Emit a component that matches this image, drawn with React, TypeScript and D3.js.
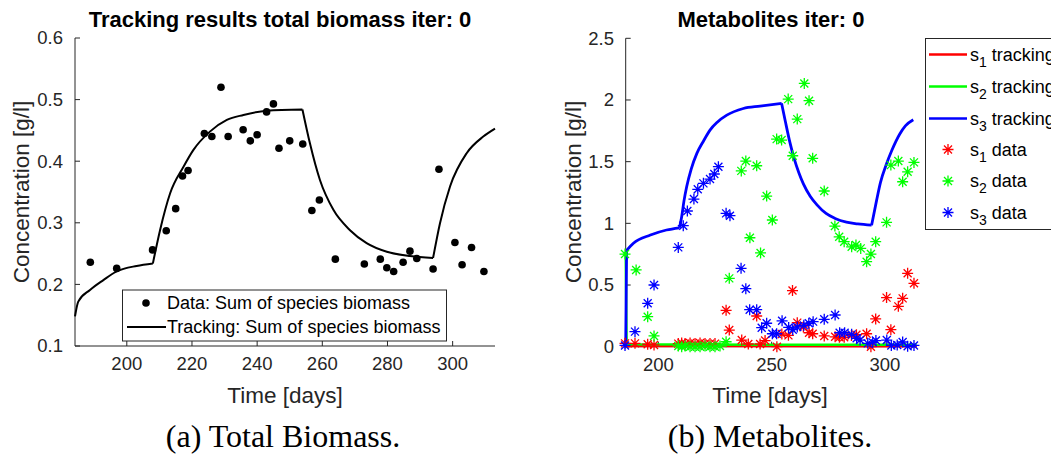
import React from "react";
import * as d3 from "d3";

// ---------- Left panel: total biomass ----------
const bioDataT = [188.8, 196.9, 207.9, 212.1, 215.0, 217.1, 218.8, 223.8, 226.1, 228.9, 231.1, 235.7, 237.9, 240.0, 242.9, 245.0, 246.7, 250.0, 254.0, 256.8, 259.1, 264.0, 272.9, 277.8, 279.8, 281.9, 284.8, 286.9, 289.0, 294.0, 295.8, 300.7, 302.9, 305.8, 309.6];
const bioDataV = [0.236, 0.226, 0.256, 0.287, 0.323, 0.376, 0.385, 0.445, 0.440, 0.520, 0.440, 0.451, 0.433, 0.443, 0.480, 0.493, 0.421, 0.433, 0.428, 0.320, 0.337, 0.241, 0.233, 0.241, 0.227, 0.221, 0.236, 0.254, 0.242, 0.225, 0.387, 0.268, 0.232, 0.260, 0.221];
// tracking curve, split at the feed switch points (sharp corners)
const bioTrackT = [184.1, 185.1, 188.7, 192.8, 196.9, 203.0, 208.0, 210.2, 213.3, 217.4, 220.4, 225.5, 230.7, 235.8, 242.9, 253.9, 256.2, 259.3, 263.4, 268.5, 273.6, 279.8, 286.9, 294.0, 296.1, 299.2, 304.3, 309.4, 313.0];
const bioTrackV = [0.148, 0.172, 0.191, 0.207, 0.221, 0.230, 0.234, 0.288, 0.348, 0.391, 0.418, 0.448, 0.467, 0.475, 0.482, 0.484, 0.429, 0.369, 0.321, 0.288, 0.267, 0.253, 0.246, 0.243, 0.299, 0.359, 0.413, 0.440, 0.453];
const bioCorners = [208.0, 253.9, 294.0];
const bioYTicks = [0.1, 0.2, 0.3, 0.4, 0.5, 0.6];
const bioXTicks = [200, 220, 240, 260, 280, 300];

// ---------- Right panel: metabolites ----------
const s1T = [185.3, 189.7, 195.3, 198.1, 208.8, 210.3, 211.8, 214.0, 216.2, 218.4, 220.6, 222.8, 225.0, 229.9, 231.3, 236.8, 239.7, 243.4, 244.9, 247.1, 252.3, 254.5, 257.4, 259.2, 261.3, 264.0, 266.5, 268.1, 273.2, 278.0, 279.9, 282.0, 285.2, 287.4, 291.9, 293.8, 295.9, 300.7, 302.6, 305.9, 307.8, 310.0, 312.8];
const s1V = [0.027, 0.027, 0.02, 0.014, 0.025, 0.03, 0.025, 0.03, 0.025, 0.03, 0.025, 0.025, 0.025, 0.295, 0.135, 0.054, 0.022, 0.249, 0.022, 0.05, 0.0, 0.103, 0.092, 0.455, 0.195, 0.16, 0.113, 0.105, 0.087, 0.08, 0.076, 0.076, 0.09, 0.097, 0.105, 0.0, 0.225, 0.398, 0.138, 0.327, 0.392, 0.595, 0.514];
const s2T = [185.3, 190.2, 195.3, 198.1, 208.8, 210.3, 211.8, 214.0, 216.2, 218.4, 220.6, 222.8, 225.0, 227.2, 229.9, 231.3, 236.6, 238.6, 240.4, 243.4, 245.1, 247.8, 250.3, 252.2, 254.4, 257.3, 259.3, 261.3, 264.4, 266.5, 268.1, 273.2, 277.9, 279.8, 282.0, 285.3, 287.2, 289.3, 291.9, 293.8, 295.9, 300.7, 302.6, 305.9, 307.8, 310.0, 312.8];
const s2V = [0.751, 0.622, 0.243, 0.087, 0.005, 0.0, 0.005, 0.0, 0.0, 0.0, 0.005, 0.0, 0.0, 0.005, 0.04, 0.554, 1.425, 1.505, 0.883, 1.467, 0.76, 1.221, 1.027, 1.683, 1.675, 2.007, 1.548, 1.845, 2.134, 1.994, 1.527, 1.262, 0.978, 0.891, 0.851, 0.81, 0.824, 0.797, 0.689, 0.751, 0.851, 1.008, 1.472, 1.505, 1.337, 1.418, 1.494];
const s3T = [185.3, 189.7, 195.3, 198.1, 208.8, 211.0, 212.8, 215.7, 217.4, 219.9, 222.8, 224.7, 226.5, 229.9, 231.6, 236.5, 238.6, 240.3, 243.4, 245.6, 247.8, 250.3, 252.2, 254.6, 257.5, 259.3, 261.3, 264.2, 266.4, 268.3, 273.2, 278.0, 280.0, 282.2, 285.3, 287.5, 289.0, 292.4, 294.6, 296.0, 300.8, 302.8, 305.4, 307.8, 310.0, 312.8];
const s3V = [0.01, 0.122, 0.352, 0.50, 0.805, 0.981, 1.10, 1.197, 1.276, 1.324, 1.359, 1.40, 1.459, 1.081, 1.062, 0.635, 0.47, 0.30, 0.30, 0.154, 0.19, 0.105, 0.105, 0.21, 0.156, 0.138, 0.16, 0.173, 0.19, 0.203, 0.222, 0.257, 0.113, 0.113, 0.10, 0.068, 0.054, 0.027, 0.035, 0.05, 0.054, 0.01, 0.014, 0.038, 0.003, 0.01];

const s1TrackT = [185.6, 186.0, 314.0];
const s1TrackV = [0.027, 0.006, 0.004];
const s2TrackT = [185.6, 186.0, 250.0, 314.0];
const s2TrackV = [0.75, 0.02, 0.016, 0.016];
const s3TrackT = [185.6, 186.0, 189.0, 196.5, 203.6, 209.3, 210.3, 211.3, 212.5, 214.5, 217.0, 220.0, 222.8, 226.0, 230.2, 237.5, 244.9, 254.4, 256.0, 258.0, 260.0, 262.0, 264.0, 267.0, 270.0, 274.0, 278.0, 283.0, 288.0, 294.1, 296.3, 298.0, 300.7, 303.0, 306.6, 309.0, 312.5];
const s3TrackV = [0.02, 0.78, 0.838, 0.905, 0.946, 0.964, 1.053, 1.18, 1.296, 1.44, 1.567, 1.67, 1.756, 1.82, 1.877, 1.931, 1.95, 1.972, 1.83, 1.66, 1.52, 1.41, 1.32, 1.22, 1.15, 1.08, 1.04, 1.01, 0.995, 0.985, 1.186, 1.33, 1.483, 1.59, 1.726, 1.79, 1.84];
const s3Corners = [186.0, 209.3, 254.4, 294.1];
const metYTicks = [0, 0.5, 1, 1.5, 2, 2.5];
const metXTicks = [200, 250, 300];

const FONT = "'Liberation Sans', Arial, Helvetica, sans-serif";
const SERIF = "'Liberation Serif', 'DejaVu Serif', serif";
const AX = "#262626";

function zip(t: number[], v: number[]) {
  return t.map((x, i) => [x, v[i]] as [number, number]);
}

// split a polyline into pieces at given corner times (corner shared by both pieces)
function splitAt(pts: [number, number][], corners: number[]) {
  const pieces: [number, number][][] = [];
  let cur: [number, number][] = [];
  for (const p of pts) {
    cur.push(p);
    if (corners.includes(p[0])) {
      pieces.push(cur);
      cur = [p];
    }
  }
  if (cur.length > 1) pieces.push(cur);
  return pieces;
}

function Star({ x, y, color }: { x: number; y: number; color: string }) {
  const s = 5.5;
  const d = 4;
  return (
    <path
      d={`M${x - s},${y}H${x + s}M${x},${y - s}V${y + s}M${x - d},${y - d}L${x + d},${y + d}M${x - d},${y + d}L${x + d},${y - d}`}
      stroke={color}
      strokeWidth={1.3}
      fill="none"
    />
  );
}

export default function App() {
  const lx = d3.scaleLinear().domain([184.1, 313]).range([75, 495]);
  const ly = d3.scaleLinear().domain([0.1, 0.6]).range([346, 38]);
  const rx = d3.scaleLinear().domain([185.6, 314]).range([625.7, 916.7]);
  const ry = d3.scaleLinear().domain([0, 2.5]).range([346.7, 38.3]);

  const lLine = d3
    .line<[number, number]>()
    .x((d) => lx(d[0]))
    .y((d) => ly(d[1]))
    .curve(d3.curveMonotoneX);
  const rLine = d3.line<[number, number]>().x((d) => rx(d[0])).y((d) => ry(d[1]));
  const rCurve = d3
    .line<[number, number]>()
    .x((d) => rx(d[0]))
    .y((d) => ry(d[1]))
    .curve(d3.curveMonotoneX);

  const bioPath = splitAt(zip(bioTrackT, bioTrackV), bioCorners)
    .map((p) => lLine(p) || "")
    .join("");
  const s3Path = splitAt(zip(s3TrackT, s3TrackV), s3Corners)
    .map((p) => rCurve(p) || "")
    .join("");

  const tickLen = 5;

  return (
    <svg
      width={1051}
      height={459}
      style={{ position: "absolute", left: 0, top: 0, background: "#fff" }}
      fontFamily={FONT}
    >
      <rect x={0} y={0} width={1051} height={459} fill="#fff" />

      {/* ===== LEFT PANEL ===== */}
      <text x={280} y={27} textAnchor="middle" fontSize={22} fontWeight="bold" fill="#000">
        Tracking results total biomass iter: 0
      </text>
      <line x1={75} y1={ly(0.6)} x2={75} y2={ly(0.1)} stroke={AX} strokeWidth={1} />
      <line x1={75} y1={ly(0.1)} x2={495} y2={ly(0.1)} stroke={AX} strokeWidth={1} />
      {bioYTicks.map((t) => (
        <g key={"ly" + t}>
          <line x1={75} x2={75 + tickLen} y1={ly(t)} y2={ly(t)} stroke={AX} />
          <text x={63} y={ly(t)} dy="0.35em" textAnchor="end" fontSize={18.5} fill={AX}>
            {t.toFixed(1)}
          </text>
        </g>
      ))}
      {bioXTicks.map((t) => (
        <g key={"lx" + t}>
          <line x1={lx(t)} x2={lx(t)} y1={ly(0.1)} y2={ly(0.1) - tickLen} stroke={AX} />
          <text x={lx(t)} y={ly(0.1) + 24} textAnchor="middle" fontSize={18.5} fill={AX}>
            {t}
          </text>
        </g>
      ))}
      <text x={285} y={403} textAnchor="middle" fontSize={22.5} fill={AX}>
        Time [days]
      </text>
      <text
        transform={`translate(29,${(38 + 346) / 2}) rotate(-90)`}
        textAnchor="middle"
        fontSize={22.5}
        fill={AX}
      >
        Concentration [g/l]
      </text>
      <path d={bioPath} fill="none" stroke="#000" strokeWidth={2} />
      {zip(bioDataT, bioDataV).map((d, i) => (
        <circle key={"bd" + i} cx={lx(d[0])} cy={ly(d[1])} r={3.8} fill="#000" />
      ))}
      <rect x={122.5} y={290} width={324} height={51} fill="#fff" stroke={AX} strokeWidth={1} />
      <circle cx={146} cy={303} r={3.8} fill="#000" />
      <text x={167} y={303} dy="0.35em" fontSize={18} fill="#000">
        Data: Sum of species biomass
      </text>
      <line x1={127} x2={166} y1={327} y2={327} stroke="#000" strokeWidth={2} />
      <text x={167} y={327} dy="0.35em" fontSize={18} fill="#000">
        Tracking: Sum of species biomass
      </text>
      <text x={283} y={447} textAnchor="middle" fontSize={32} fontFamily={SERIF} fill="#000">
        (a) Total Biomass.
      </text>

      {/* ===== RIGHT PANEL ===== */}
      <text x={771} y={27} textAnchor="middle" fontSize={22} fontWeight="bold" fill="#000">
        Metabolites iter: 0
      </text>
      <line x1={625.7} y1={ry(2.5)} x2={625.7} y2={ry(0)} stroke={AX} strokeWidth={1} />
      <line x1={625.7} y1={ry(0)} x2={916.7} y2={ry(0)} stroke={AX} strokeWidth={1} />
      {metYTicks.map((t) => (
        <g key={"ry" + t}>
          <line x1={625.7} x2={625.7 + tickLen} y1={ry(t)} y2={ry(t)} stroke={AX} />
          <text x={614} y={ry(t)} dy="0.35em" textAnchor="end" fontSize={18.5} fill={AX}>
            {String(t)}
          </text>
        </g>
      ))}
      {metXTicks.map((t) => (
        <g key={"rx" + t}>
          <line x1={rx(t)} x2={rx(t)} y1={ry(0)} y2={ry(0) - tickLen} stroke={AX} />
          <text x={rx(t)} y={ry(0) + 24} textAnchor="middle" fontSize={18.5} fill={AX}>
            {t}
          </text>
        </g>
      ))}
      <text x={770} y={403} textAnchor="middle" fontSize={22.5} fill={AX}>
        Time [days]
      </text>
      <text
        transform={`translate(581,${(38 + 346) / 2}) rotate(-90)`}
        textAnchor="middle"
        fontSize={22.5}
        fill={AX}
      >
        Concentration [g/l]
      </text>
      <path d={rLine(zip(s1TrackT, s1TrackV)) || ""} fill="none" stroke="#ff0000" strokeWidth={2.5} />
      <path d={rLine(zip(s2TrackT, s2TrackV)) || ""} fill="none" stroke="#00ff00" strokeWidth={2.5} />
      <path d={s3Path} fill="none" stroke="#0000ff" strokeWidth={2.8} />
      {zip(s1T, s1V).map((d, i) => (
        <Star key={"s1" + i} x={rx(d[0])} y={ry(d[1])} color="#ff0000" />
      ))}
      {zip(s2T, s2V).map((d, i) => (
        <Star key={"s2" + i} x={rx(d[0])} y={ry(d[1])} color="#00ff00" />
      ))}
      {zip(s3T, s3V).map((d, i) => (
        <Star key={"s3" + i} x={rx(d[0])} y={ry(d[1])} color="#0000ff" />
      ))}
      <rect x={925.5} y={38.5} width={140} height={191} fill="#fff" stroke={AX} strokeWidth={1} />
      {[
        { c: "#ff0000", n: "1", y: 54.5 },
        { c: "#00ff00", n: "2", y: 86.5 },
        { c: "#0000ff", n: "3", y: 118.5 },
      ].map((e) => (
        <g key={"lt" + e.n}>
          <line x1={929} x2={967} y1={e.y} y2={e.y} stroke={e.c} strokeWidth={2.5} />
          <text x={970} y={e.y} dy="0.35em" fontSize={18} fill="#000">
            s
            <tspan dy={6} fontSize={14}>{e.n}</tspan>
            <tspan dy={-6}> tracking</tspan>
          </text>
        </g>
      ))}
      {[
        { c: "#ff0000", n: "1", y: 149.5 },
        { c: "#00ff00", n: "2", y: 181 },
        { c: "#0000ff", n: "3", y: 212.5 },
      ].map((e) => (
        <g key={"ld" + e.n}>
          <Star x={948} y={e.y} color={e.c} />
          <text x={970} y={e.y} dy="0.35em" fontSize={18} fill="#000">
            s
            <tspan dy={6} fontSize={14}>{e.n}</tspan>
            <tspan dy={-6}> data</tspan>
          </text>
        </g>
      ))}
      <text x={770} y={447} textAnchor="middle" fontSize={32} fontFamily={SERIF} fill="#000">
        (b) Metabolites.
      </text>
    </svg>
  );
}
